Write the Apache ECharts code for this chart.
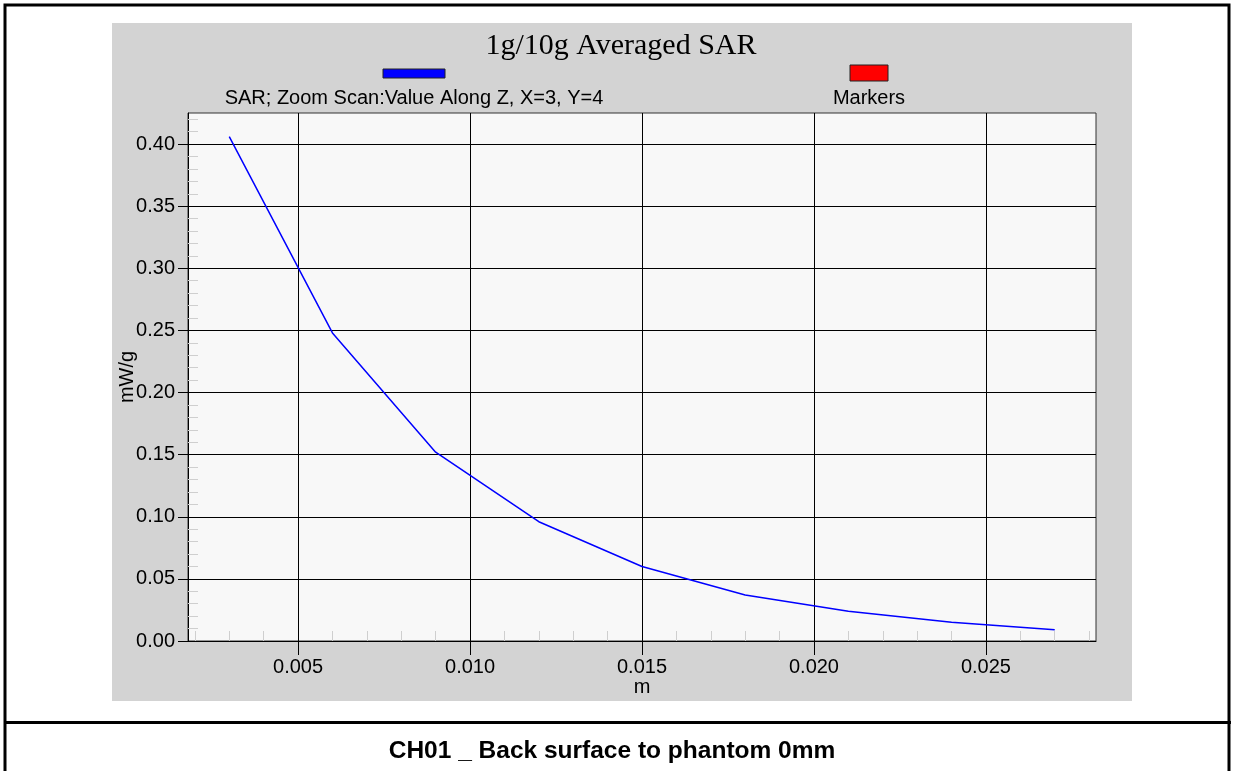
<!DOCTYPE html>
<html>
<head>
<meta charset="utf-8">
<script src="https://cdn.jsdelivr.net/npm/echarts@6/dist/echarts.min.js"></script>
<style>
html,body{margin:0;padding:0;background:#fff;}
#chart{width:1235px;height:771px;}
</style>
</head>
<body>
<div id="chart"></div>
<script>
// ---- data ----
var zPositions = [0.003, 0.006, 0.009, 0.012, 0.015, 0.018, 0.021, 0.024, 0.027];
var sarValues = [0.406, 0.248, 0.152, 0.096, 0.060, 0.037, 0.024, 0.015, 0.009];
var xMajorTicks = [0.005, 0.010, 0.015, 0.020, 0.025];
var xMinorTicks = [0.002, 0.003, 0.004, 0.006, 0.007, 0.008, 0.009, 0.011, 0.012, 0.013, 0.014,
                   0.016, 0.017, 0.018, 0.019, 0.021, 0.022, 0.023, 0.024, 0.026, 0.027, 0.028];
var yMajorTicks = [0.00, 0.05, 0.10, 0.15, 0.20, 0.25, 0.30, 0.35, 0.40];
var yMinorTicks = [0.01, 0.02, 0.03, 0.04, 0.06, 0.07, 0.08, 0.09, 0.11, 0.12, 0.13, 0.14,
                   0.16, 0.17, 0.18, 0.19, 0.21, 0.22, 0.23, 0.24, 0.26, 0.27, 0.28, 0.29,
                   0.31, 0.32, 0.33, 0.34, 0.36, 0.37, 0.38, 0.39, 0.41, 0.42];
var titleText = '1g/10g Averaged SAR';
var seriesName = 'SAR; Zoom Scan:Value Along Z, X=3, Y=4';
var markerName = 'Markers';
var xName = 'm';
var yName = 'mW/g';
var caption = 'CH01 _ Back surface to phantom 0mm';

var FONT = '"Liberation Sans", Arial, sans-serif';
var X_MIN = 0.0018, X_MAX = 0.0282, Y_MIN = 0, Y_MAX = 0.425;

var chart = echarts.init(document.getElementById('chart'), null, {renderer: 'canvas'});
var option = {
  animation: false,
  backgroundColor: '#ffffff',
  title: {
    text: titleText,
    left: 616, top: 26, textAlign: 'center',
    textStyle: {fontFamily: '"Liberation Serif", "Times New Roman", serif', fontWeight: 'normal', fontSize: 30, color: '#000'}
  },
  grid: {
    left: 188, top: 113, width: 908, height: 528,
    show: true, backgroundColor: '#f8f8f8', borderColor: '#333', borderWidth: 1, z: -1
  },
  graphic: {
    elements: [
      {type: 'rect', z: -10, shape: {x: 5, y: 5, width: 1224, height: 780}, style: {fill: '#fff', stroke: '#000', lineWidth: 3}},
      {type: 'rect', z: -9, shape: {x: 112, y: 23, width: 1020, height: 678}, style: {fill: '#d3d3d3'}},
      {type: 'line', z: -8, shape: {x1: 4, y1: 722.5, x2: 1231, y2: 722.5}, style: {stroke: '#000', lineWidth: 3}},
      {type: 'rect', shape: {x: 383, y: 69, width: 62, height: 9}, style: {fill: '#0000ff', stroke: '#222', lineWidth: 1}},
      {type: 'text', x: 414, y: 98, style: {text: seriesName, font: '20px ' + FONT, fill: '#000', align: 'center', verticalAlign: 'middle'}},
      {type: 'rect', shape: {x: 850, y: 65, width: 38, height: 16}, style: {fill: '#ff0000', stroke: '#222', lineWidth: 1}},
      {type: 'text', x: 869, y: 98, style: {text: markerName, font: '20px ' + FONT, fill: '#000', align: 'center', verticalAlign: 'middle'}},
      {type: 'text', x: 612, y: 751, style: {text: caption, font: 'bold 24.5px ' + FONT, fill: '#000', align: 'center', verticalAlign: 'middle'}}
    ]
  },
  xAxis: [
    {
      type: 'value', min: X_MIN, max: X_MAX, position: 'bottom',
      name: xName, nameLocation: 'middle', nameGap: 36, nameMoveOverlap: false,
      nameTextStyle: {fontFamily: FONT, fontSize: 20, color: '#000'},
      axisLine: {show: true, onZero: false, lineStyle: {color: '#000', width: 1}},
      axisTick: {show: true, inside: false, length: 14, customValues: xMajorTicks, lineStyle: {color: '#000'}},
      axisLabel: {show: true, margin: 16, customValues: xMajorTicks, fontFamily: FONT, fontSize: 20, color: '#000',
                  formatter: function (v) { return v.toFixed(3); }},
      splitLine: {show: true, lineStyle: {color: '#000', width: 1}}
    },
    {
      type: 'value', min: X_MIN, max: X_MAX, position: 'bottom',
      axisLine: {show: false},
      axisTick: {show: true, inside: true, length: 10, customValues: xMinorTicks, lineStyle: {color: '#cfcfcf', width: 1}},
      axisLabel: {show: false},
      splitLine: {show: false}
    }
  ],
  yAxis: [
    {
      type: 'value', min: Y_MIN, max: Y_MAX, position: 'left',
      name: yName, nameLocation: 'middle', nameGap: 51, nameRotate: 90, nameMoveOverlap: false,
      nameTextStyle: {fontFamily: FONT, fontSize: 20, color: '#000'},
      axisLine: {show: true, onZero: false, lineStyle: {color: '#000', width: 1}},
      axisTick: {show: true, inside: false, length: 10, customValues: yMajorTicks, lineStyle: {color: '#000'}},
      axisLabel: {show: true, margin: 13, customValues: yMajorTicks, fontFamily: FONT, fontSize: 20, color: '#000',
                  formatter: function (v) { return v.toFixed(2); }},
      splitLine: {show: true, lineStyle: {color: '#000', width: 1}}
    },
    {
      type: 'value', min: Y_MIN, max: Y_MAX, position: 'left',
      axisLine: {show: false},
      axisTick: {show: true, inside: true, length: 10, customValues: yMinorTicks, lineStyle: {color: '#cfcfcf', width: 1}},
      axisLabel: {show: false},
      splitLine: {show: false}
    }
  ],
  series: [
    {
      name: seriesName, type: 'line', xAxisIndex: 0, yAxisIndex: 0,
      data: zPositions.map(function (x, i) { return [x, sarValues[i]]; }),
      showSymbol: false, symbol: 'none',
      lineStyle: {color: '#0000ff', width: 1.5},
      z: 5
    }
  ]
};
chart.setOption(option);
</script>
</body>
</html>
